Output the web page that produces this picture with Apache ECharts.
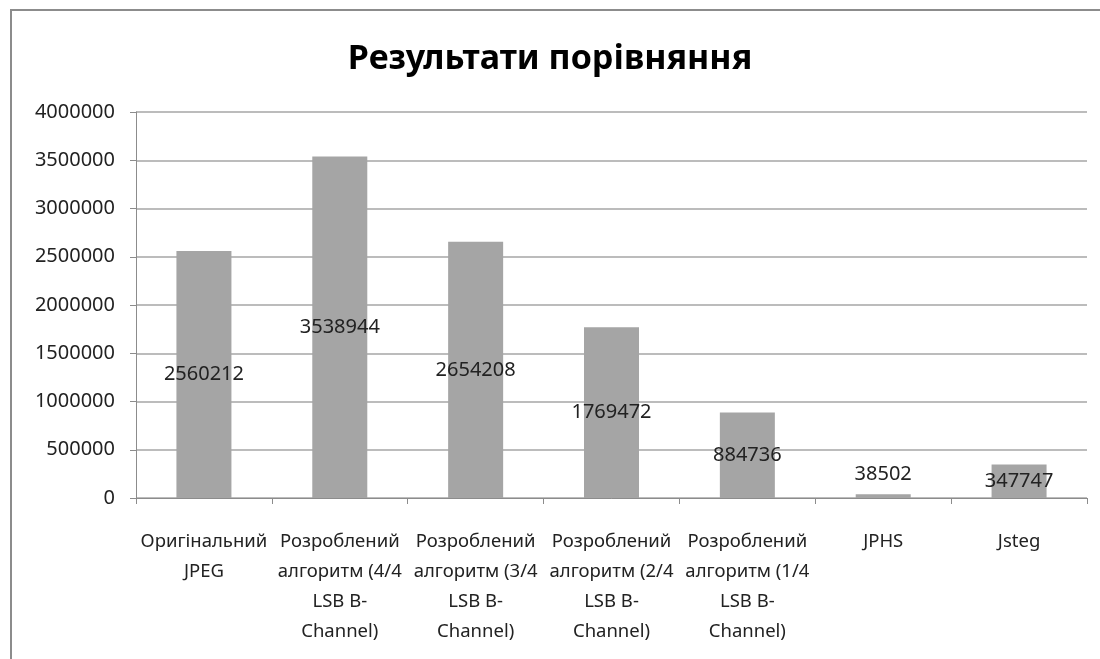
<!DOCTYPE html>
<html><head><meta charset="utf-8">
<script src="https://cdn.jsdelivr.net/npm/echarts@6/dist/echarts.min.js"></script>
<style>
html,body{margin:0;padding:0;background:#fff;}
#frame{position:absolute;left:10px;top:9px;width:1100px;height:700px;border:2px solid #8c8c8c;box-sizing:border-box;}
#c{position:absolute;left:0;top:0;width:1100px;height:659px;}
</style></head>
<body>
<div id="frame"></div>
<div id="c"></div>
<script>
const categories = [
  "Оригінальний\nJPEG",
  "Розроблений\nалгоритм (4/4\nLSB B-\nChannel)",
  "Розроблений\nалгоритм (3/4\nLSB B-\nChannel)",
  "Розроблений\nалгоритм (2/4\nLSB B-\nChannel)",
  "Розроблений\nалгоритм (1/4\nLSB B-\nChannel)",
  "JPHS",
  "Jsteg"
];
const values = [2560212, 3538944, 2654208, 1769472, 884736, 38502, 347747];
const titleText = "Результати порівняння";

const font = "'Noto Sans', 'Open Sans', sans-serif";
const chart = echarts.init(document.getElementById('c'));
chart.setOption({
  animation: false,
  backgroundColor: 'transparent',
  title: {
    text: titleText, left: 'center', top: 37,
    textStyle: {fontFamily: font, fontSize: 34, fontWeight: 'bold', color: '#000'}
  },
  grid: {left: 136, right: 13, top: 112, bottom: 161, containLabel: false},
  xAxis: {
    type: 'category', data: categories,
    axisLine: {lineStyle: {color: '#8c8c8c', width: 1}},
    axisTick: {show: true, alignWithLabel: false, length: 6, lineStyle: {color: '#8c8c8c'}},
    axisLabel: {interval: 0, fontFamily: font, fontSize: 18.5, color: '#222', lineHeight: 30, margin: 29}
  },
  yAxis: {
    type: 'value', min: 0, max: 4000000, interval: 500000,
    axisLine: {show: true, lineStyle: {color: '#8c8c8c', width: 1}},
    axisTick: {show: true, length: 6, lineStyle: {color: '#8c8c8c'}},
    splitLine: {lineStyle: {color: '#a6a6a6', width: 1.5}},
    axisLabel: {fontFamily: font, fontSize: 20, color: '#222', margin: 21, formatter: v => String(v)}
  },
  series: [{
    type: 'bar', barWidth: 55,
    data: values.map((v, i) => i === 5 ? {value: v, label: {position: 'top', distance: 10}} : v),
    itemStyle: {color: '#a5a5a5'},
    label: {show: true, position: 'inside', fontFamily: font, fontSize: 20, color: '#222'}
  }]
});
</script>
</body></html>
